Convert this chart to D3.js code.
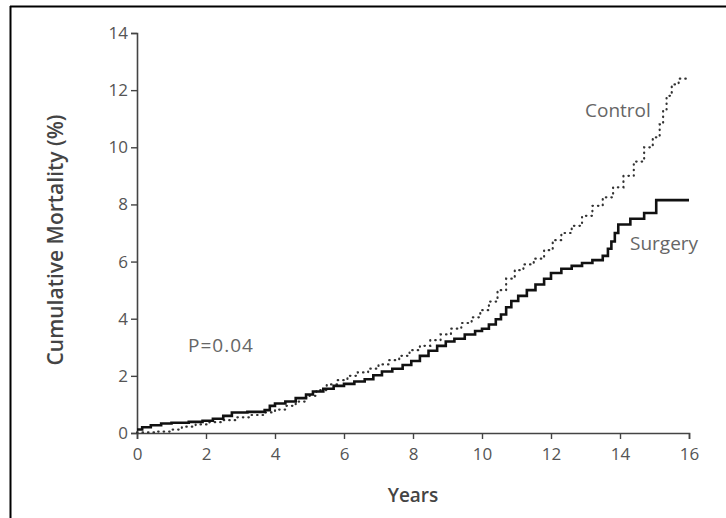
<!DOCTYPE html>
<html><head><meta charset="utf-8">
<script src="https://cdn.jsdelivr.net/npm/d3@7"></script>
<style>body{margin:0;background:#fff}svg{display:block}</style>
</head><body>
<svg id="c" width="726" height="518"></svg>
<script>
const surgeryYears = [0,0.15,0.4,0.7,1.0,1.5,1.9,2.2,2.5,2.75,3.2,3.7,3.85,4.0,4.3,4.6,4.9,5.1,5.4,5.7,6.0,6.3,6.6,6.85,7.1,7.4,7.7,7.95,8.2,8.45,8.7,8.95,9.2,9.5,9.8,10.0,10.2,10.4,10.55,10.7,10.85,11.05,11.3,11.55,11.8,12.0,12.3,12.6,12.9,13.2,13.5,13.65,13.75,13.85,13.95,14.3,14.7,15.05,16];
const surgeryMortality = [0.12,0.2,0.27,0.33,0.36,0.39,0.43,0.5,0.6,0.72,0.74,0.8,0.95,1.03,1.1,1.22,1.35,1.45,1.55,1.65,1.72,1.8,1.88,2.02,2.15,2.25,2.38,2.52,2.7,2.88,3.05,3.2,3.3,3.45,3.57,3.65,3.8,3.98,4.15,4.4,4.62,4.8,5.0,5.2,5.4,5.6,5.75,5.85,5.95,6.05,6.2,6.45,6.7,7.0,7.3,7.5,7.7,8.15,8.15];
const controlYears = [0,0.6,1.0,1.3,1.7,2.1,2.5,2.9,3.3,3.7,4.0,4.3,4.6,4.9,5.2,5.5,5.8,6.1,6.4,6.7,7.0,7.3,7.6,7.9,8.2,8.5,8.8,9.1,9.4,9.7,9.95,10.2,10.45,10.7,10.95,11.2,11.5,11.8,12.05,12.3,12.6,12.9,13.2,13.5,13.8,14.1,14.4,14.7,14.95,15.15,15.25,15.35,15.5,15.7,15.95];
const controlMortality = [0.02,0.05,0.12,0.22,0.3,0.38,0.45,0.55,0.63,0.72,0.82,0.95,1.1,1.3,1.5,1.7,1.85,2.0,2.12,2.25,2.4,2.55,2.7,2.9,3.05,3.25,3.45,3.65,3.85,4.05,4.3,4.6,5.0,5.4,5.7,5.9,6.1,6.4,6.75,7.0,7.25,7.6,7.95,8.25,8.6,9.0,9.5,10.0,10.35,10.8,11.3,11.8,12.2,12.4,12.5];
const xTicks = [0,2,4,6,8,10,12,14,16];
const yTicks = [0,2,4,6,8,10,12,14];

const svg = d3.select("#c");
const font = "'Open Sans', 'DejaVu Sans', sans-serif";
// frame
svg.append("line").attr("x1",10.5).attr("x2",10.5).attr("y1",6).attr("y2",518).attr("stroke","#000").attr("stroke-width",2);
svg.append("line").attr("x1",10).attr("x2",726).attr("y1",6.5).attr("y2",6.5).attr("stroke","#000").attr("stroke-width",2);

const x = d3.scaleLinear().domain([0,16]).range([137,689]);
const y = d3.scaleLinear().domain([0,14]).range([433,33]);

const gx = svg.append("g").attr("transform","translate(0,433)")
  .call(d3.axisBottom(x).tickValues(xTicks).tickSize(6).tickPadding(9).tickFormat(d3.format("d")));
const gy = svg.append("g").attr("transform","translate(137,0)")
  .call(d3.axisLeft(y).tickValues(yTicks).tickSize(6).tickPadding(3).tickFormat(d3.format("d")));
[gx,gy].forEach(g=>{
  g.select(".domain").attr("stroke","#444").attr("stroke-width",1.6);
  g.selectAll(".tick line").attr("stroke","#444").attr("stroke-width",1.4);
  g.selectAll(".tick text").attr("fill","#555").style("font-family",font).style("font-size","17px");
});
gy.select(".domain").attr("d","M-6,433.5H0.5V33.5H-6");

const sData = surgeryYears.map((t,i)=>[t,surgeryMortality[i]]);
const cData = controlYears.map((t,i)=>[t,controlMortality[i]]);
const line = d3.line().x(d=>x(d[0])).y(d=>y(d[1])).curve(d3.curveStepAfter);

svg.append("path").attr("d",line(cData)).attr("fill","none").attr("stroke","#333")
  .attr("stroke-width",2.2).attr("stroke-dasharray","0.5,5").attr("stroke-linecap","round");
svg.append("path").attr("d",line(sData)).attr("fill","none").attr("stroke","#111")
  .attr("stroke-width",2.6);

const txt = (s,xx,yy,opt={}) => svg.append("text").attr("x",xx).attr("y",yy).text(s)
  .attr("fill",opt.fill||"#666").style("font-family",font).style("font-size",(opt.size||19)+"px")
  .style("font-weight",opt.weight||"normal").attr("text-anchor",opt.anchor||"start")
  .style("letter-spacing",(opt.ls||0)+"px")
  .attr("dominant-baseline","central");

txt("Control",585,110);
txt("Surgery",630,243);
txt("P=0.04",188,345,{ls:1});
txt("Years",413,495,{anchor:"middle",fill:"#444",size:19,weight:600});
svg.append("text").attr("transform","translate(55,240) rotate(-90)").text("Cumulative Mortality (%)")
  .attr("text-anchor","middle").attr("dominant-baseline","central").attr("fill","#444")
  .style("font-family",font).style("font-size","21px").style("font-weight",600);
</script>
</body></html>
